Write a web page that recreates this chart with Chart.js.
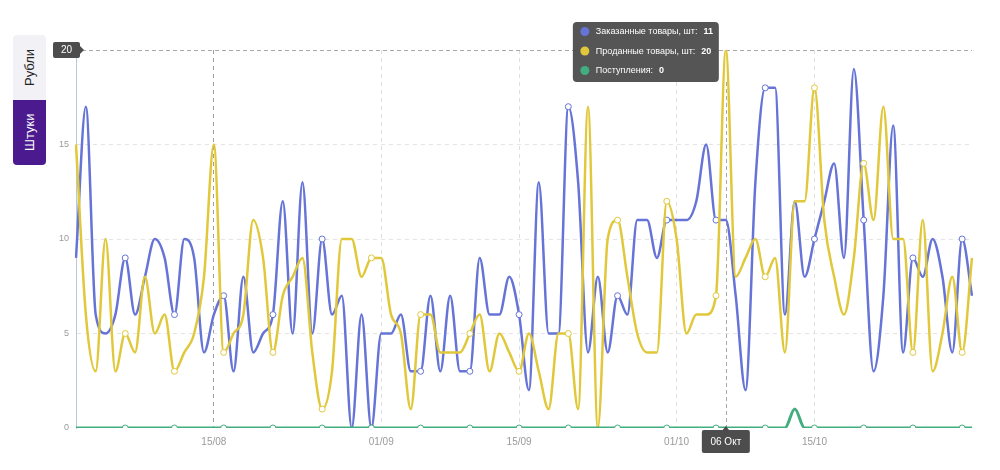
<!DOCTYPE html>
<html>
<head>
<meta charset="utf-8">
<script src="https://cdn.jsdelivr.net/npm/chart.js@4.4.1/dist/chart.umd.min.js"></script>
<style>
	body { margin: 0; background: #fff; font-family: "Liberation Sans", Arial, sans-serif; }
	#wrap { position: relative; width: 1000px; height: 470px; }
	#chart { position: absolute; left: 0; top: 0; }
	.toggle { position: absolute; left: 13px; width: 33px; height: 65px; writing-mode: vertical-rl; transform: rotate(180deg);
		display: flex; align-items: center; justify-content: center; font-size: 13px; }
	#rub { top: 35px; background: #f2f1f6; color: #222; border-radius: 0 0 4px 4px; }
	#pcs { top: 100px; background: #4b1a8e; color: #fff; border-radius: 4px 4px 0 0; }
</style>
</head>
<body>
<div id="wrap">
	<canvas id="chart" width="1000" height="470"></canvas>
	<div class="toggle" id="rub">Рубли</div>
	<div class="toggle" id="pcs">Штуки</div>
</div>
<script>
// daily values, 01/08 .. 31/10
var ordered = [9, 17, 6, 5, 6, 9, 6, 8, 10, 9, 6, 10, 9, 4, 6, 7, 3, 8, 4, 5,
	6, 12, 5, 13, 5, 10, 6, 7, 0, 6, 0, 5, 5, 6, 3, 3, 7, 3, 7, 3,
	3, 9, 6, 6, 8, 6, 2, 13, 5, 5, 17, 13, 4, 8, 4, 7, 6, 11, 11, 9,
	11, 11, 11, 12, 15, 11, 11, 7, 2, 13, 18, 18, 6, 12, 8, 10, 12, 14, 9, 19,
	11, 3, 7, 16, 4, 9, 8, 10, 8, 4, 10, 7];
var sold = [15, 6, 3, 10, 3, 5, 4, 8, 5, 6, 3, 4, 5, 8, 15, 4, 5, 6, 11, 9,
	4, 7, 8, 9, 4, 1, 3, 10, 10, 8, 9, 9, 6, 5, 1, 6, 6, 4, 4, 4,
	5, 6, 3, 5, 4, 3, 5, 3, 1, 5, 5, 1, 17, 0, 10, 11, 8, 5, 4, 4,
	12, 10, 5, 6, 6, 7, 20, 8, 9, 10, 8, 9, 4, 12, 12, 18, 11, 8, 6, 9,
	14, 11, 17, 10, 10, 4, 11, 3, 5, 8, 4, 9];
var receipts = [0, 0, 0, 0, 0, 0, 0, 0, 0, 0, 0, 0, 0, 0, 0, 0, 0, 0, 0, 0,
	0, 0, 0, 0, 0, 0, 0, 0, 0, 0, 0, 0, 0, 0, 0, 0, 0, 0, 0, 0,
	0, 0, 0, 0, 0, 0, 0, 0, 0, 0, 0, 0, 0, 0, 0, 0, 0, 0, 0, 0,
	0, 0, 0, 0, 0, 0, 0, 0, 0, 0, 0, 0, 0, 1, 0, 0, 0, 0, 0, 0,
	0, 0, 0, 0, 0, 0, 0, 0, 0, 0, 0, 0];
var tickLabels = ['15/08', '01/09', '15/09', '01/10', '15/10'];
var yTicks = [0, 5, 10, 15, 20];
var seriesNames = ['Заказанные товары, шт', 'Проданные товары, шт', 'Поступления'];
var hoverIndex = 66;
var hoverLabel = '06 Окт';

var categories = [];
var d = new Date(2023, 7, 1);
for (var i = 0; i < ordered.length; i++) {
	var dd = ('0' + d.getDate()).slice(-2);
	var mm = ('0' + (d.getMonth() + 1)).slice(-2);
	categories.push(dd + '/' + mm);
	d.setDate(d.getDate() + 1);
}

var BLUE = '#6574d6';
var YELLOW = '#e0c83a';
var GREEN = '#42ad7e';

function dotRadius(ctx) {
	return (ctx.index % 5 === 0 && ctx.index > 0) ? 3 : 0;
}

function roundBox(ctx, x, y, w, h, r) {
	ctx.beginPath();
	ctx.moveTo(x + r, y);
	ctx.lineTo(x + w - r, y);
	ctx.quadraticCurveTo(x + w, y, x + w, y + r);
	ctx.lineTo(x + w, y + h - r);
	ctx.quadraticCurveTo(x + w, y + h, x + w - r, y + h);
	ctx.lineTo(x + r, y + h);
	ctx.quadraticCurveTo(x, y + h, x, y + h - r);
	ctx.lineTo(x, y + r);
	ctx.quadraticCurveTo(x, y, x + r, y);
	ctx.closePath();
}

var overlay = {
	id: 'overlay',
	beforeDatasetsDraw: function(chart) {
		var ctx = chart.ctx;
		var area = chart.chartArea;
		var xs = chart.scales.x;
		var ys = chart.scales.y;
		ctx.save();
		ctx.setLineDash([4, 3]);
		ctx.lineWidth = 1;
		ctx.strokeStyle = '#a8a8a8';
		// hover line
		var hx = Math.round(xs.getPixelForValue(hoverIndex)) + 0.5;
		ctx.beginPath();
		ctx.moveTo(hx, area.top + 32);
		ctx.lineTo(hx, area.bottom);
		ctx.stroke();
		// crosshair at 20
		var hy = Math.round(ys.getPixelForValue(20)) + 0.5;
		ctx.beginPath();
		ctx.moveTo(area.left + 6, hy);
		ctx.lineTo(area.right, hy);
		ctx.stroke();
		ctx.restore();
	},
	afterDraw: function(chart) {
		var ctx = chart.ctx;
		var area = chart.chartArea;
		var xs = chart.scales.x;
		var ys = chart.scales.y;
		var hx = xs.getPixelForValue(hoverIndex);
		var hy = ys.getPixelForValue(20);
		ctx.save();

		// "20" box on the y axis
		ctx.fillStyle = '#4d4d4d';
		roundBox(ctx, 53, hy - 8, 27, 16, 2);
		ctx.fill();
		ctx.beginPath();
		ctx.moveTo(80, hy - 4);
		ctx.lineTo(84, hy);
		ctx.lineTo(80, hy + 4);
		ctx.fill();
		ctx.fillStyle = '#fff';
		ctx.font = '10px "Liberation Sans", Arial';
		ctx.textAlign = 'center';
		ctx.textBaseline = 'middle';
		ctx.fillText('20', 66.5, hy + 0.5);

		// date box under the hover line
		ctx.fillStyle = '#4d4d4d';
		roundBox(ctx, hx - 24, area.bottom + 2, 48, 23, 2);
		ctx.fill();
		ctx.beginPath();
		ctx.moveTo(hx - 4, area.bottom + 3);
		ctx.lineTo(hx, area.bottom - 2);
		ctx.lineTo(hx + 4, area.bottom + 3);
		ctx.fill();
		ctx.fillStyle = '#fff';
		ctx.fillText(hoverLabel, hx, area.bottom + 14);

		// tooltip
		var tx = hx - 153;
		var ty = 22;
		ctx.fillStyle = 'rgba(72, 72, 72, 0.93)';
		roundBox(ctx, tx, ty, 146, 60, 4);
		ctx.fill();
		var colors = [BLUE, YELLOW, GREEN];
		var vals = [ordered[hoverIndex], sold[hoverIndex], receipts[hoverIndex]];
		ctx.textAlign = 'left';
		for (var k = 0; k < 3; k++) {
			var ry = ty + 9.5 + k * 19.5;
			ctx.fillStyle = colors[k];
			ctx.beginPath();
			ctx.arc(tx + 12, ry, 4.5, 0, Math.PI * 2);
			ctx.fill();
			ctx.fillStyle = '#fff';
			ctx.font = '9px "Liberation Sans", Arial';
			var lbl = seriesNames[k] + ':';
			ctx.fillText(lbl, tx + 23, ry + 0.5);
			var w = ctx.measureText(lbl).width;
			ctx.font = 'bold 9px "Liberation Sans", Arial';
			ctx.fillText(String(vals[k]), tx + 23 + w + 6, ry + 0.5);
		}
		ctx.restore();
	}
};

var ctx = document.getElementById('chart');

var chart = new Chart(ctx, {
	type: 'line',
	data: {
		labels: categories,
		datasets: [{
			label: seriesNames[2],
			data: receipts,
			borderColor: GREEN,
			borderWidth: 3,
			pointBorderWidth: 1,
			order: 0
		}, {
			label: seriesNames[1],
			data: sold,
			borderColor: YELLOW,
			pointBorderWidth: 1,
			order: 1
		}, {
			label: seriesNames[0],
			data: ordered,
			borderColor: BLUE,
			pointBorderWidth: 1,
			order: 2
		}]
	},
	options: {
		responsive: false,
		animation: false,
		events: [],
		layout: { padding: { top: 50, right: 28, left: 0, bottom: 0 } },
		elements: {
			line: { borderWidth: 2.5, cubicInterpolationMode: 'monotone' },
			point: { radius: dotRadius, backgroundColor: '#fff', borderWidth: 1, hoverRadius: 0 }
		},
		plugins: { legend: { display: false }, tooltip: { enabled: false } },
		scales: {
			x: {
				afterFit: function(s) { s.height = 42; },
				border: { display: false, dash: [4, 4] },
				grid: {
					drawTicks: false,
					color: function(c) {
						var l = categories[c.index];
						if (l === '15/08') return '#a0a0a0';
						return tickLabels.indexOf(l) >= 0 ? '#dedede' : 'rgba(0,0,0,0)';
					}
				},
				ticks: {
					autoSkip: false,
					maxRotation: 0,
					padding: 8,
					color: '#9a9a9a',
					font: { size: 10, family: '"Liberation Sans", Arial' },
					callback: function(v, i) {
						return tickLabels.indexOf(categories[i]) >= 0 ? categories[i] : '';
					}
				}
			},
			y: {
				min: 0,
				max: 20,
				afterFit: function(s) { s.width = 76; },
				afterBuildTicks: function(s) { s.ticks = yTicks.map(function(v) { return { value: v }; }); },
				border: { display: true, color: '#b9cadb', width: 1, dash: [4, 4] },
				grid: {
					drawTicks: false,
					color: function(c) { return (c.tick.value === 0 || c.tick.value === 20) ? 'rgba(0,0,0,0)' : '#e4e4e4'; }
				},
				ticks: {
					padding: 7,
					color: '#9a9a9a',
					font: { size: 9, family: '"Liberation Sans", Arial' },
					callback: function(v) { return v === 20 ? '' : v; }
				}
			}
		}
	},
	plugins: [overlay]
});
</script>
</body>
</html>
